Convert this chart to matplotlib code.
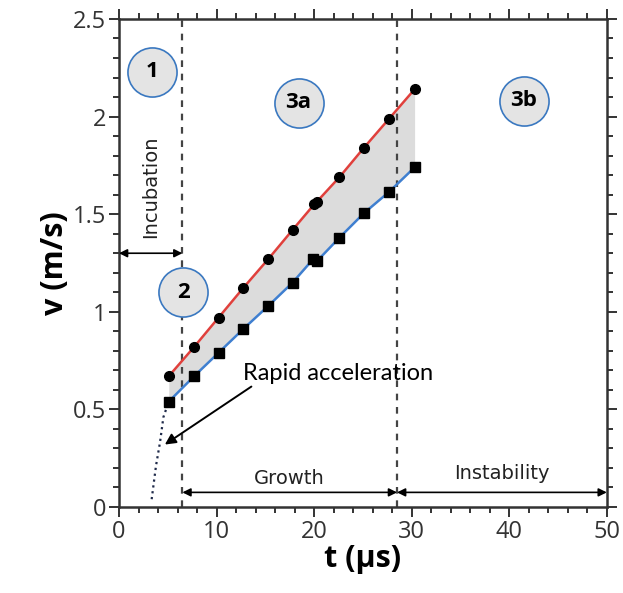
import matplotlib
matplotlib.use("Agg")
import matplotlib.pyplot as plt
from matplotlib.ticker import MultipleLocator

plt.rcParams['font.family'] = ['Open Sans', 'DejaVu Sans']

# data
t_circ = [5.1, 7.7, 10.2, 12.7, 15.3, 17.8, 20.0, 20.3, 22.6, 25.1, 27.7, 30.3]
v_circ = [0.67, 0.82, 0.97, 1.12, 1.27, 1.42, 1.55, 1.565, 1.69, 1.84, 1.99, 2.14]
t_sq = [5.1, 7.7, 10.2, 12.7, 15.3, 17.8, 19.9, 20.3, 22.6, 25.1, 27.7, 30.3]
v_sq = [0.54, 0.67, 0.79, 0.91, 1.03, 1.15, 1.27, 1.26, 1.38, 1.505, 1.615, 1.74]
t_acc = [3.35, 3.79, 4.2, 4.55, 5.1]
v_acc = [0.04, 0.21, 0.33, 0.46, 0.54]
t_phase = [6.5, 28.5]
xticks = [0, 10, 20, 30, 40, 50]
yticks = [0, 0.5, 1, 1.5, 2, 2.5]
ytick_labels = ['0', '0.5', '1', '1.5', '2', '2.5']
badges = [("1", 3.4, 2.23), ("3a", 18.4, 2.07), ("3b", 41.5, 2.08), ("2", 6.6, 1.10)]

fig = plt.figure(figsize=(6.23, 5.93), dpi=100)
ax = fig.add_axes([0.191, 0.145, 0.783, 0.823])
ax.set_xlim(0, 50)
ax.set_ylim(0, 2.5)

ax.fill_between(t_circ, v_circ, [v_sq[i] for i in range(len(t_circ))],
                color='#dcdcdc', lw=0, zorder=1)
ax.plot(t_circ, v_circ, color='#e0403c', lw=1.8, zorder=2)
ax.plot(t_sq, v_sq, color='#3f7fd0', lw=1.8, zorder=2)
ax.plot(t_circ, v_circ, 'o', color='black', ms=7, zorder=3)
ax.plot(t_sq, v_sq, 's', color='black', ms=7, zorder=3)
ax.plot(t_acc, v_acc, ':', color='#1f2a4a', lw=1.6, zorder=2)

for tp in t_phase:
    ax.axvline(tp, color='#444444', ls=(0, (3, 3)), lw=1.6, zorder=1)

arw = dict(arrowstyle='<|-|>', color='black', lw=1.2, mutation_scale=12, shrinkA=0, shrinkB=0)
ax.annotate('', xy=(0, 1.30), xytext=(6.5, 1.30), arrowprops=arw)
ax.annotate('', xy=(6.5, 0.075), xytext=(28.5, 0.075), arrowprops=arw)
ax.annotate('', xy=(28.5, 0.075), xytext=(50, 0.075), arrowprops=arw)
lab_font = ['DejaVu Sans']
ax.text(3.2, 1.64, 'Incubation', rotation=90, ha='center', va='center', fontsize=14,
        color='#222222', family=lab_font)
ax.text(17.5, 0.145, 'Growth', ha='center', va='center', fontsize=14, color='#222222', family=lab_font)
ax.text(39.2, 0.17, 'Instability', ha='center', va='center', fontsize=14, color='#222222', family=lab_font)

ax.annotate('Rapid acceleration', xy=(4.7, 0.32), xytext=(12.7, 0.685),
            fontsize=17, ha='left', va='center', family=['Lato', 'DejaVu Sans'],
            arrowprops=dict(arrowstyle='-|>', color='black', lw=1.4, mutation_scale=16,
                            shrinkA=0, shrinkB=0, relpos=(0.05, -0.1)))

for lab, bx, by in badges:
    ax.scatter([bx], [by], s=1250, facecolor='#e4e4e4', edgecolor='#3a78c0', lw=1.2, zorder=4)
    ax.text(bx, by, lab, ha='center', va='center', fontsize=16, fontweight='bold', zorder=5)

ax.set_xticks(xticks)
ax.set_yticks(yticks)
ax.set_yticklabels(ytick_labels)
ax.xaxis.set_minor_locator(MultipleLocator(2))
ax.yaxis.set_minor_locator(MultipleLocator(0.1))
ax.tick_params(which='both', direction='out', top=True, right=True,
               labeltop=False, labelright=False, colors='#333333', width=1.4)
ax.tick_params(which='major', length=7, labelsize=17, pad=2)
ax.tick_params(which='minor', length=4)
for s in ax.spines.values():
    s.set_linewidth(1.8)
    s.set_color('#333333')

ax.set_xlabel('t (µs)', fontsize=22, fontweight='bold', labelpad=0)
ax.set_ylabel('v (m/s)', fontsize=22, fontweight='bold', labelpad=2)

fig.savefig('out.png', dpi=100)
